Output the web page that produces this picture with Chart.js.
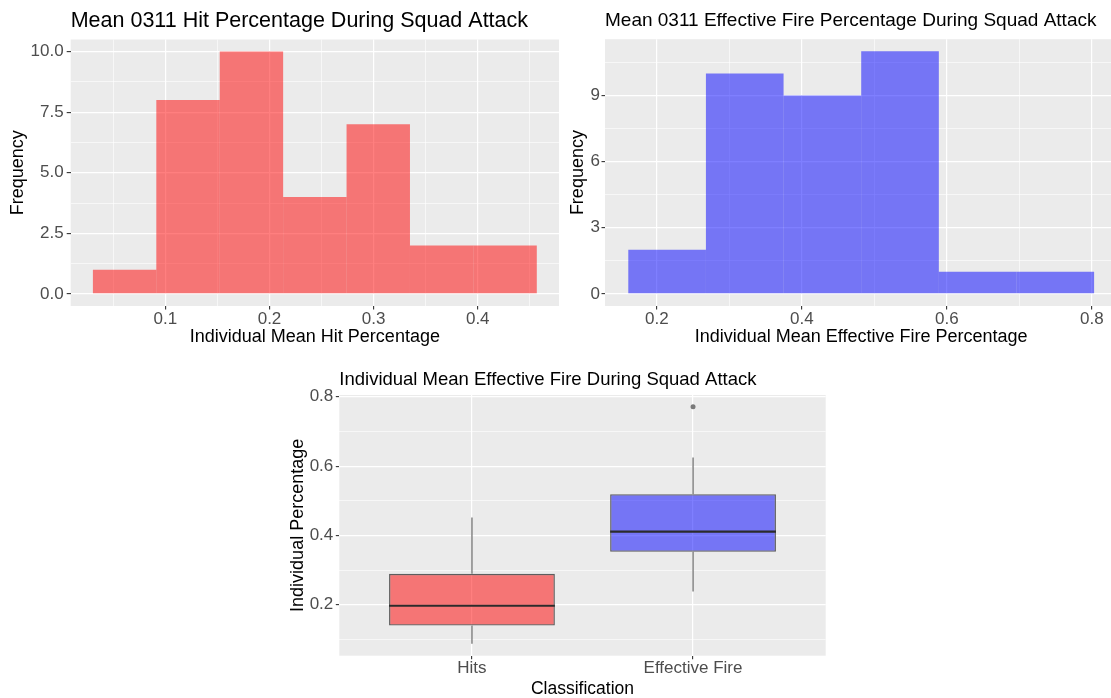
<!DOCTYPE html>
<html><head><meta charset="utf-8">
<script src="https://cdn.jsdelivr.net/npm/chart.js@4.4.1/dist/chart.umd.min.js"></script>
<style>
html,body{margin:0;padding:0;background:#fff;width:1111px;height:698px;overflow:hidden;position:relative}
canvas{position:absolute;display:block}
</style></head><body>
<canvas id="c1" width="560" height="350" style="left:0;top:0;width:560px;height:350px"></canvas>
<canvas id="c2" width="560" height="350" style="left:560px;top:0;width:560px;height:350px"></canvas>
<canvas id="c3" width="560" height="345" style="left:280px;top:355px;width:560px;height:345px"></canvas>
<script>
// ---- Data: hit-percentage histogram ----
const hitEdges = [0.0304, 0.0913, 0.1522, 0.2131, 0.2740, 0.3349, 0.3958, 0.4567];
const hitCounts = [1, 8, 10, 4, 7, 2, 2];
const hitXTicks = [0.1, 0.2, 0.3, 0.4];
const hitXLabels = ['0.1', '0.2', '0.3', '0.4'];
const hitYTicks = [0, 2.5, 5, 7.5, 10];
const hitYLabels = ['0.0', '2.5', '5.0', '7.5', '10.0'];

// ---- Data: effective-fire histogram ----
const effEdges = [0.1606, 0.2677, 0.3748, 0.4819, 0.5890, 0.6961, 0.8032];
const effCounts = [2, 10, 9, 11, 1, 1];
const effXTicks = [0.2, 0.4, 0.6, 0.8];
const effXLabels = ['0.2', '0.4', '0.6', '0.8'];
const effYTicks = [0, 3, 6, 9];
const effYLabels = ['0', '3', '6', '9'];

// ---- Data: boxplot ----
const boxCategories = ['Hits', 'Effective Fire'];
const boxMin = [0.087, 0.238];
const boxQ1 = [0.140, 0.353];
const boxMedian = [0.197, 0.411];
const boxQ3 = [0.289, 0.519];
const boxMax = [0.452, 0.625];
const boxOutliers = [[], [0.771]];
const boxYTicks = [0.2, 0.4, 0.6, 0.8];
const boxYLabels = ['0.2', '0.4', '0.6', '0.8'];

const FONT = "'Liberation Sans', Arial, sans-serif";
Chart.defaults.font.family = FONT;

const RED = 'rgba(255,0,0,0.5)';
const BLUE = 'rgba(0,0,255,0.5)';

const panelBg = {
  id: 'panelBg',
  beforeDraw(chart) {
    const {ctx, chartArea: a} = chart;
    ctx.save();
    ctx.fillStyle = '#EBEBEB';
    ctx.fillRect(a.left, a.top, a.right - a.left, a.bottom - a.top);
    ctx.restore();
  }
};

function withMinor(major, min, max, minor) {
  if (!minor) return major.slice();
  const step = (major[1] - major[0]) / 2;
  const out = [];
  for (let v = major[0] - step; v <= major[major.length - 1] + step + 1e-9; v += step) {
    const r = Math.round(v * 1e6) / 1e6;
    if (r >= min && r <= max) out.push(r);
  }
  return out;
}

function makeScale(o) {
  const all = withMinor(o.major, o.min, o.max, o.minor !== false);
  const idx = v => o.major.findIndex(m => Math.abs(m - v) < 1e-6);
  const isMaj = c => c.tick && idx(c.tick.value) >= 0;
  return {
    type: 'linear', min: o.min, max: o.max, offset: false,
    afterBuildTicks: s => { s.ticks = all.map(v => ({value: v})); },
    afterFit: s => { if (o.axis === 'x') s.height = o.size; else s.width = o.size; },
    grid: {
      offset: false, drawOnChartArea: true, drawTicks: true, tickLength: o.tl,
      color: '#ffffff',
      lineWidth: c => isMaj(c) ? 1.2 : 0.6,
      tickColor: c => isMaj(c) ? '#333333' : 'rgba(0,0,0,0)',
      tickWidth: c => isMaj(c) ? 1.1 : 0
    },
    border: {display: false},
    ticks: {
      autoSkip: false, maxRotation: 0, minRotation: 0, padding: o.pad,
      color: '#4d4d4d', font: {family: FONT, size: 17, lineHeight: 1},
      callback: v => { const i = idx(v); return i < 0 ? '' : o.labels[i]; }
    },
    title: {
      display: true, text: o.title, color: '#000000',
      font: {family: FONT, size: o.tsize, lineHeight: 1.2},
      padding: o.tpad
    }
  };
}

function centers(edges) { return edges.slice(0, -1).map((e, i) => (e + edges[i + 1]) / 2); }

function histChart(id, o) {
  const xr = o.edges[o.edges.length - 1] - o.edges[0];
  const xmin = o.edges[0] - 0.05 * xr, xmax = o.edges[o.edges.length - 1] + 0.05 * xr;
  const ymax = Math.max(...o.counts);
  new Chart(document.getElementById(id), {
    type: 'bar',
    data: {
      datasets: [{
        data: centers(o.edges).map((x, i) => ({x, y: o.counts[i]})),
        backgroundColor: o.color, borderWidth: 0, inflateAmount: 0,
        barThickness: 'flex', barPercentage: 1, categoryPercentage: 1
      }]
    },
    options: {
      responsive: false, animation: false, devicePixelRatio: 1,
      layout: {padding: {left: 0, right: o.padRight, top: 0, bottom: 0}},
      plugins: {
        legend: {display: false}, tooltip: {enabled: false},
        title: {display: true, text: o.title, align: 'start', fullSize: false, color: '#000',
          font: {family: FONT, size: o.titleSize, lineHeight: 1.2, weight: 'normal'},
          padding: o.titlePad}
      },
      scales: {
        x: makeScale({axis: 'x', min: xmin, max: xmax, major: o.xTicks, labels: o.xLabels,
          size: 44, tl: 3.5, pad: 1, title: o.xTitle, tsize: 18, tpad: {top: 0, bottom: 2}}),
        y: makeScale({axis: 'y', min: -0.05 * ymax, max: 1.05 * ymax, major: o.yTicks, labels: o.yLabels,
          size: o.yWidth, tl: o.ytl, pad: o.ypad, title: 'Frequency', tsize: 18, tpad: {top: 7.4, bottom: 0}})
      }
    },
    plugins: [panelBg]
  });
}

histChart('c1', {
  edges: hitEdges, counts: hitCounts, color: RED,
  xTicks: hitXTicks, xLabels: hitXLabels, yTicks: hitYTicks, yLabels: hitYLabels,
  title: 'Mean 0311 Hit Percentage During Squad Attack', titleSize: 21.5,
  titlePad: {top: 7.95, bottom: 5.75},
  xTitle: 'Individual Mean Hit Percentage',
  yWidth: 70.7, ytl: 4, ypad: 3, padRight: 1
});

histChart('c2', {
  edges: effEdges, counts: effCounts, color: BLUE,
  xTicks: effXTicks, xLabels: effXLabels, yTicks: effYTicks, yLabels: effYLabels,
  title: 'Mean 0311 Effective Fire Percentage During Squad Attack', titleSize: 19,
  titlePad: {top: 9.5, bottom: 6.9},
  xTitle: 'Individual Mean Effective Fire Percentage',
  yWidth: 45, ytl: 3.5, ypad: 1.5, padRight: 2.6
});

// ---- Boxplot ----
(function () {
  const pos = boxCategories.map((c, i) => i + 1);
  const outs = boxOutliers.flatMap((arr, i) => arr.map(v => ({x: pos[i], y: v})));
  const lo = Math.min(...boxMin, ...outs.map(p => p.y));
  const hi = Math.max(...boxMax, ...outs.map(p => p.y));
  const r = hi - lo;
  const medHalf = 0.003;
  const common = {grouped: false, inflateAmount: 0};
  new Chart(document.getElementById('c3'), {
    type: 'bar',
    data: {
      datasets: [
        Object.assign({
          data: pos.map((x, i) => ({x, y: [boxMedian[i] - medHalf, boxMedian[i] + medHalf]})),
          backgroundColor: '#2b2b2b', borderWidth: 0, barPercentage: 0.75, categoryPercentage: 1
        }, common),
        Object.assign({
          data: pos.map((x, i) => ({x, y: [boxQ1[i], boxQ3[i]]})),
          backgroundColor: [RED, BLUE], borderColor: '#5e5e5e', borderWidth: 1.3, borderSkipped: false,
          barPercentage: 0.75, categoryPercentage: 1
        }, common),
        Object.assign({
          data: pos.map((x, i) => ({x, y: [boxMin[i], boxQ1[i]]})),
          backgroundColor: '#4a4a4a', borderWidth: 0, barThickness: 1
        }, common),
        Object.assign({
          data: pos.map((x, i) => ({x, y: [boxQ3[i], boxMax[i]]})),
          backgroundColor: '#4a4a4a', borderWidth: 0, barThickness: 1
        }, common),
        {
          type: 'scatter', data: outs, pointRadius: 2.5, pointBackgroundColor: '#7a7a7a',
          pointBorderWidth: 0, showLine: false
        }
      ]
    },
    options: {
      responsive: false, animation: false, devicePixelRatio: 1,
      layout: {padding: {left: 0, right: 14.3, top: 0, bottom: 0}},
      plugins: {
        legend: {display: false}, tooltip: {enabled: false},
        title: {display: true, text: 'Individual Mean Effective Fire During Squad Attack', align: 'start',
          fullSize: false, color: '#000', font: {family: FONT, size: 18.5, lineHeight: 1.2, weight: 'normal'},
          padding: {top: 13.5, bottom: 4.3}}
      },
      scales: {
        x: makeScale({axis: 'x', min: 0.4, max: boxCategories.length + 0.6, major: pos, labels: boxCategories,
          minor: false, size: 44.3, tl: 3.5, pad: 1, title: 'Classification', tsize: 17.5,
          tpad: {top: 0, bottom: 0.7}}),
        y: makeScale({axis: 'y', min: lo - 0.05 * r, max: hi + 0.05 * r, major: boxYTicks, labels: boxYLabels,
          size: 59.3, tl: 3.5, pad: 2.5, title: 'Individual Percentage', tsize: 18, tpad: {top: 7.2, bottom: 0}})
      }
    },
    plugins: [panelBg]
  });
})();
</script>
</body></html>
